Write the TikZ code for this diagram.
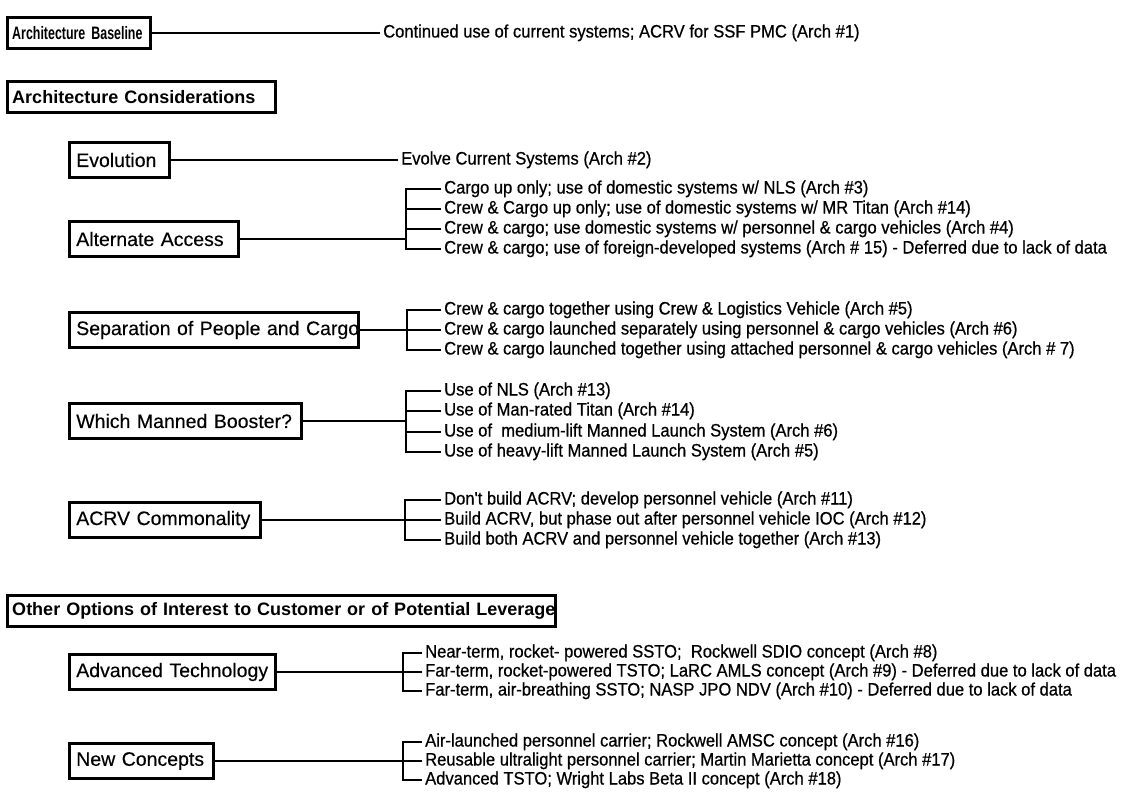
\documentclass[tikz,border=0pt]{standalone}
\usepackage{fontspec}
\setmainfont{Liberation Sans}
\newfontfamily\optfont[FakeStretch=0.92,FakeBold=0.6]{Liberation Sans}
\newfontfamily\boxfont[FakeBold=0.3]{Liberation Sans}
\newfontfamily\headfont{Liberation Sans Bold}
\newfontfamily\narrowhead[FakeStretch=0.69]{Liberation Sans Bold}
\begin{document}
\begin{tikzpicture}[x=1pt,y=-1pt,
  link/.style={line width=2.2pt},
  hbox/.style={draw, line width=2.5pt, anchor=west, inner xsep=5pt, inner ysep=0pt,
    minimum height=31pt, align=left, font=\headfont\fontsize{18}{18}\selectfont},
  sbox/.style={draw, line width=2.5pt, anchor=west, inner xsep=7pt, inner ysep=0pt,
    minimum height=35pt, align=left, font=\boxfont\fontsize{19.5}{19}\selectfont},
  opt/.style={anchor=west, inner xsep=3pt, inner ysep=0pt, text height=13pt, text depth=4pt,
    font=\optfont\fontsize{18}{18}\selectfont},
]
\useasboundingbox (0,0) rectangle (1134,808);

% ---- section headings
\node[hbox, font=\narrowhead\fontsize{18}{18}\selectfont, text width=133pt] (base) at (6,33) {\mbox{Architecture Baseline}};
\node[hbox, text width=258pt] (cons) at (6,97) {\mbox{Architecture Considerations}};
\node[hbox, text width=538pt] (other) at (6,611) {\mbox{Other Options of Interest to Customer or of Potential Leverage}};

% ---- baseline
\node[opt] (base1) at (380,33) {Continued use of current systems; ACRV for SSF PMC (Arch \#1)};
\draw[link] (base.east) -- (base1.west);

% ---- evolution
\node[sbox, text width=86pt] (evo) at (68,160) {\mbox{Evolution}};
\node[opt] (evo1) at (398,160) {Evolve Current Systems (Arch \#2)};
\draw[link] (evo.east) -- (evo1.west);

% ---- alternate access
\node[sbox, text width=155pt] (alt) at (68,239) {\mbox{Alternate Access}};
\node[opt] (alt1) at (441,189) {Cargo up only; use of domestic systems w/ NLS (Arch \#3)};
\node[opt] (alt2) at (441,209) {Crew \& Cargo up only; use of domestic systems w/ MR Titan (Arch \#14)};
\node[opt] (alt3) at (441,229) {Crew \& cargo; use domestic systems w/ personnel \& cargo vehicles (Arch \#4)};
\node[opt] (alt4) at (441,249) {Crew \& cargo; use of foreign-developed systems (Arch \# 15) - Deferred due to lack of data};
\coordinate (altJ) at (406,239);
\draw[link] (alt.east) -- (altJ);
\draw[link] (alt1.west) -| (altJ) |- (alt4.west);
\draw[link] (alt2.west) -- (alt2.west -| altJ);
\draw[link] (alt3.west) -- (alt3.west -| altJ);

% ---- separation of people and cargo
\node[sbox, text width=275pt] (sep) at (68,330) {\mbox{Separation of People and Cargo}};
\node[opt] (sep1) at (441,310) {Crew \& cargo together using Crew \& Logistics Vehicle (Arch \#5)};
\node[opt] (sep2) at (441,330) {Crew \& cargo launched separately using personnel \& cargo vehicles (Arch \#6)};
\node[opt] (sep3) at (441,350) {Crew \& cargo launched together using attached personnel \& cargo vehicles (Arch \# 7)};
\coordinate (sepJ) at (407,330);
\draw[link] (sep.east) -- (sepJ);
\draw[link] (sep1.west) -| (sepJ) |- (sep3.west);
\draw[link] (sep2.west) -- (sepJ);

% ---- which manned booster
\node[sbox, text width=218pt] (boost) at (68,421) {\mbox{Which Manned Booster?}};
\node[opt] (boost1) at (441,391) {Use of NLS (Arch \#13)};
\node[opt] (boost2) at (441,411) {Use of Man-rated Titan (Arch \#14)};
\node[opt] (boost3) at (441,432) {Use of\ \ medium-lift Manned Launch System (Arch \#6)};
\node[opt] (boost4) at (441,452) {Use of heavy-lift Manned Launch System (Arch \#5)};
\coordinate (boostJ) at (406,421);
\draw[link] (boost.east) -- (boostJ);
\draw[link] (boost1.west) -| (boostJ) |- (boost4.west);
\draw[link] (boost2.west) -- (boost2.west -| boostJ);
\draw[link] (boost3.west) -- (boost3.west -| boostJ);

% ---- ACRV commonality
\node[sbox, text width=177pt] (acrv) at (68,520) {\mbox{ACRV Commonality}};
\node[opt] (acrv1) at (441,500) {Don't build ACRV; develop personnel vehicle (Arch \#11)};
\node[opt] (acrv2) at (441,520) {Build ACRV, but phase out after personnel vehicle IOC (Arch \#12)};
\node[opt] (acrv3) at (441,540) {Build both ACRV and personnel vehicle together (Arch \#13)};
\coordinate (acrvJ) at (405,520);
\draw[link] (acrv.east) -- (acrvJ);
\draw[link] (acrv1.west) -| (acrvJ) |- (acrv3.west);
\draw[link] (acrv2.west) -- (acrvJ);

% ---- advanced technology
\node[sbox, text width=192pt] (adv) at (68,672) {\mbox{Advanced Technology}};
\node[opt] (adv1) at (422,653) {Near-term, rocket- powered SSTO;\ \ Rockwell SDIO concept (Arch \#8)};
\node[opt] (adv2) at (422,672) {Far-term, rocket-powered TSTO; LaRC AMLS concept (Arch \#9) - Deferred due to lack of data};
\node[opt] (adv3) at (422,691) {Far-term, air-breathing SSTO; NASP JPO NDV (Arch \#10) - Deferred due to lack of data};
\coordinate (advJ) at (403,672);
\draw[link] (adv.east) -- (advJ);
\draw[link] (adv1.west) -| (advJ) |- (adv3.west);
\draw[link] (adv2.west) -- (advJ);

% ---- new concepts
\node[sbox, text width=130pt] (newc) at (68,761) {\mbox{New Concepts}};
\node[opt] (newc1) at (422,742) {Air-launched personnel carrier; Rockwell AMSC concept (Arch \#16)};
\node[opt] (newc2) at (422,761) {Reusable ultralight personnel carrier; Martin Marietta concept (Arch \#17)};
\node[opt] (newc3) at (422,780) {Advanced TSTO; Wright Labs Beta II concept (Arch \#18)};
\coordinate (newcJ) at (403,761);
\draw[link] (newc.east) -- (newcJ);
\draw[link] (newc1.west) -| (newcJ) |- (newc3.west);
\draw[link] (newc2.west) -- (newc2.west -| newcJ);
\end{tikzpicture}
\end{document}
